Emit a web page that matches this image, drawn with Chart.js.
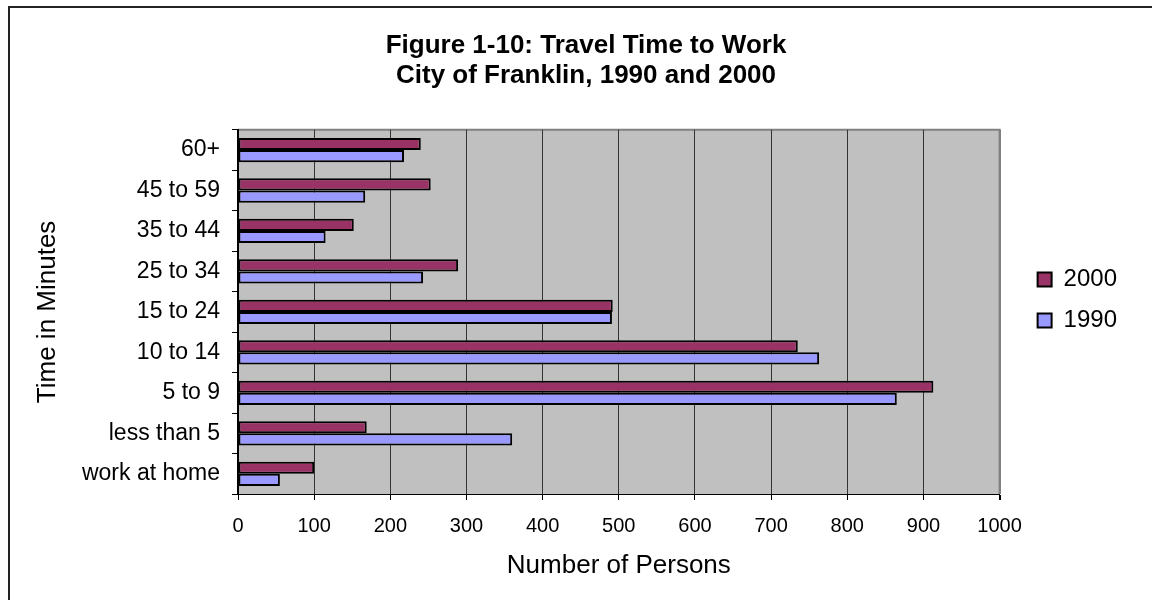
<!DOCTYPE html>
<html>
<head>
<meta charset="utf-8">
<title>Travel Time to Work</title>
<script src="https://cdn.jsdelivr.net/npm/chart.js@4"></script>
<style>
    html, body { margin: 0; padding: 0; background: #fff; overflow: hidden; }
    #contenedor { position: relative; width: 1152px; height: 600px; overflow: hidden; }
    #marco {
        position: absolute; left: 8px; top: 6px; right: -20px; bottom: -20px;
        border-left: 2px solid #222; border-top: 2px solid #222;
    }
    #myChart { position: absolute; left: 0; top: 0; }
</style>
</head>
<body>
<div id="contenedor">
    <div id="marco"></div>
    <canvas id="myChart" width="1152" height="600"></canvas>
</div>
<script>
// Categories, top to bottom as drawn
const categorias = ['60+', '45 to 59', '35 to 44', '25 to 34', '15 to 24', '10 to 14', '5 to 9', 'less than 5', 'work at home'];
// Number of persons per category
const personas2000 = [240, 253, 152, 289, 492, 735, 913, 169, 100];
const personas1990 = [218, 167, 115, 243, 491, 763, 865, 360, 55];
// X axis ticks
const ejeMin = 0;
const ejeMax = 1000;
const ejePaso = 100;

const fuente = "'Liberation Sans', Arial, sans-serif";
Chart.defaults.color = '#000';
Chart.defaults.font.family = fuente;

// Gray plot background with a gray top/right edge
const fondoGris = {
    id: 'fondoGris',
    beforeDraw(chart) {
        const a = chart.chartArea;
        const c = chart.ctx;
        c.save();
        c.fillStyle = '#C0C0C0';
        c.fillRect(a.left, a.top, a.right - a.left, a.bottom - a.top);
        c.strokeStyle = '#808080';
        c.lineWidth = 2;
        c.beginPath();
        c.moveTo(a.left, a.top);
        c.lineTo(a.right, a.top);
        c.lineTo(a.right, a.bottom);
        c.stroke();
        c.restore();
    }
};

// Move legend and title a bit to the right, like the original sheet
const ajuste = {
    id: 'ajuste',
    afterLayout(chart) {
        chart.legend.left += 21;
        chart.legend.right += 21;
        chart.titleBlock.left += 23;
        chart.titleBlock.right += 23;
    }
};

var ctx = document.getElementById('myChart').getContext('2d');
var myChart = new Chart(ctx, {
    type: 'bar',
    data: {
        labels: categorias,
        datasets: [{
            label: '2000',
            data: personas2000,
            backgroundColor: '#993366',
            borderColor: '#000',
            borderWidth: 2,
            borderSkipped: false
        }, {
            label: '1990',
            data: personas1990,
            backgroundColor: '#9999FF',
            borderColor: '#000',
            borderWidth: 2,
            borderSkipped: false
        }]
    },
    options: {
        responsive: false,
        animation: false,
        indexAxis: 'y',
        categoryPercentage: 0.6,
        barPercentage: 1.0,
        layout: { padding: { left: 20, right: 46, top: 0, bottom: 0 } },
        plugins: {
            title: {
                display: true,
                text: ['Figure 1-10: Travel Time to Work', 'City of Franklin, 1990 and 2000'],
                color: '#000',
                font: { size: 26, weight: 'bold', lineHeight: 1.15 },
                padding: { top: 31, bottom: 39 }
            },
            legend: {
                position: 'right',
                labels: {
                    boxWidth: 14,
                    boxHeight: 14,
                    padding: 17,
                    font: { size: 24 },
                    color: '#000'
                }
            },
            tooltip: { enabled: false }
        },
        scales: {
            x: {
                min: ejeMin,
                max: ejeMax,
                ticks: {
                    stepSize: ejePaso,
                    padding: 14,
                    font: { size: 20 },
                    callback: (valor) => String(valor)
                },
                grid: {
                    color: (c) => (c.tick && c.tick.value === ejeMax) ? '#808080' : '#333',
                    lineWidth: (c) => (c.tick && c.tick.value === ejeMax) ? 2 : 1,
                    tickColor: '#000',
                    tickLength: 6
                },
                border: { color: '#000', width: 1 },
                title: {
                    display: true,
                    text: 'Number of Persons',
                    font: { size: 26 },
                    padding: { top: 0, bottom: 19 }
                },
                afterFit: (escala) => { escala.height = 106; }
            },
            y: {
                ticks: { padding: 12, font: { size: 23 } },
                grid: {
                    offset: true,
                    drawOnChartArea: false,
                    tickLength: 6,
                    tickColor: '#000'
                },
                border: { color: '#000', width: 2 },
                title: {
                    display: true,
                    text: 'Time in Minutes',
                    font: { size: 26 },
                    padding: { top: 12, bottom: 0 }
                },
                afterFit: (escala) => { escala.width = 218; }
            }
        }
    },
    plugins: [fondoGris, ajuste]
});
</script>
</body>
</html>
